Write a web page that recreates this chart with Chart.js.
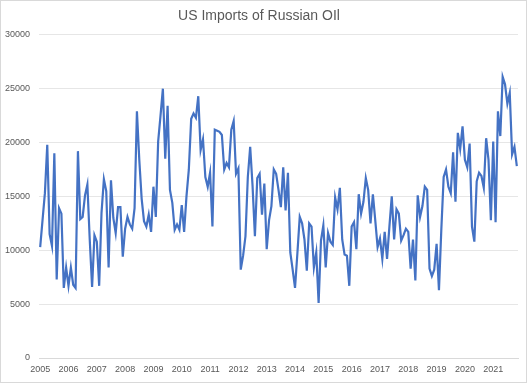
<!DOCTYPE html>
<html>
<head>
<meta charset="utf-8">
<script src="https://cdn.jsdelivr.net/npm/chart.js@4/dist/chart.umd.min.js"></script>
<style>
  html, body { margin: 0; padding: 0; background: #ffffff; }
  #wrap { width: 527px; height: 383px; }
</style>
</head>
<body>
<div id="wrap"><canvas id="c" width="527" height="383"></canvas></div>
<script>
const chartTitle = "US Imports of Russian OIl";
const startYear = 2005;
const yearLabels = ["2005","2006","2007","2008","2009","2010","2011","2012","2013","2014","2015","2016","2017","2018","2019","2020","2021"];
const yTicks = [0, 5000, 10000, 15000, 20000, 25000, 30000];

// monthly values, Jan 2005 .. Nov 2021 (thousand barrels)
const imports2005 = [10300,12800,15300,19800,11500,10400,19000,7300,13900,13400,6500,8400];
const imports2006 = [6700,8400,6800,6500,19200,12900,13100,15100,16100,11000,6600,11400];
const imports2007 = [10800,6700,13500,16600,15500,8400,16500,13000,11600,14000,14000,9400];
const imports2008 = [12000,13100,12400,12000,13900,22900,18400,14800,12700,12200,13300,11700];
const imports2009 = [15900,13100,20100,22500,25000,18500,23400,15600,14400,11900,12400,11900];
const imports2010 = [14200,11700,15000,17500,22200,22700,22300,24300,19300,20300,16800,15900];
const imports2011 = [17200,12200,21200,21100,21000,20700,17500,18100,17700,21200,22000,17100];
const imports2012 = [17600,8200,9500,11300,16800,19600,16000,11300,16700,17100,13300,16200];
const imports2013 = [10100,12800,14100,17500,17100,15600,14000,17700,13700,17200,9800,8200];
const imports2014 = [6500,9700,13100,12500,11000,8100,12500,12200,8400,9800,5100,10900];
const imports2015 = [12300,8400,11600,10800,10500,14900,13800,15800,11000,9600,9500,6700];
const imports2016 = [12200,12600,10100,15200,13400,14500,16700,15600,12500,15200,12800,10300];
const imports2017 = [11100,9200,11700,9200,12200,15000,11000,13800,13400,10900,11400,12000];
const imports2018 = [11700,8300,11000,7200,15100,13100,14100,15900,15600,8300,7600,8200];
const imports2019 = [10600,6300,11900,16800,17500,15900,15300,19100,14500,20900,19400,21500];
const imports2020 = [18400,17700,19900,12200,10800,16400,17200,16900,15800,20400,18400,12800];
const imports2021 = [20100,12600,22900,20600,26100,25400,23600,24600,18900,19600,17800];

const values = [].concat(imports2005, imports2006, imports2007, imports2008, imports2009,
  imports2010, imports2011, imports2012, imports2013, imports2014, imports2015, imports2016,
  imports2017, imports2018, imports2019, imports2020, imports2021);

const categories = values.map((v, i) => {
  const y = startYear + Math.floor(i / 12);
  const m = (i % 12) + 1;
  return y + "-" + String(m).padStart(2, "0");
});

const borderPlugin = {
  id: "outerBorder",
  afterDraw(chart) {
    const ctx = chart.ctx;
    ctx.save();
    ctx.strokeStyle = "#d9d9d9";
    ctx.lineWidth = 1;
    ctx.strokeRect(0.5, 0.5, chart.width - 1, chart.height - 1);
    ctx.restore();
  }
};

new Chart(document.getElementById("c"), {
  type: "line",
  data: {
    labels: categories,
    datasets: [{
      label: chartTitle,
      data: values,
      borderColor: "#4472C4",
      backgroundColor: "#4472C4",
      borderWidth: 2.2,
      pointRadius: 0,
      tension: 0,
      fill: false
    }]
  },
  options: {
    responsive: false,
    animation: false,
    layout: { padding: { left: 0, right: 9, top: 0, bottom: 0 } },
    plugins: {
      legend: { display: false },
      tooltip: { enabled: false },
      title: {
        display: true,
        text: chartTitle,
        color: "#595959",
        font: { family: "'Liberation Sans', Arial, sans-serif", size: 14, weight: "normal" },
        padding: { top: 8, bottom: 10 }
      }
    },
    scales: {
      x: {
        type: "category",
        offset: true,
        grid: { display: false, drawTicks: false },
        border: { display: true, color: "#d9d9d9", width: 1 },
        ticks: {
          autoSkip: false,
          maxRotation: 0,
          minRotation: 0,
          padding: 6,
          color: "#595959",
          font: { family: "'Liberation Sans', Arial, sans-serif", size: 9 },
          callback: function (val, idx) {
            return idx % 12 === 0 ? yearLabels[idx / 12] : "";
          }
        },
        afterFit(scale) { scale.height = 25; }
      },
      y: {
        min: yTicks[0],
        max: yTicks[yTicks.length - 1],
        afterBuildTicks(scale) { scale.ticks = yTicks.map(v => ({ value: v })); },
        grid: { color: "#e6e6e6", lineWidth: 1, drawTicks: false },
        border: { display: false },
        ticks: {
          padding: 9,
          color: "#595959",
          font: { family: "'Liberation Sans', Arial, sans-serif", size: 9 },
          callback: v => String(v)
        },
        afterFit(scale) { scale.width = 39; }
      }
    }
  },
  plugins: [borderPlugin]
});
</script>
</body>
</html>
